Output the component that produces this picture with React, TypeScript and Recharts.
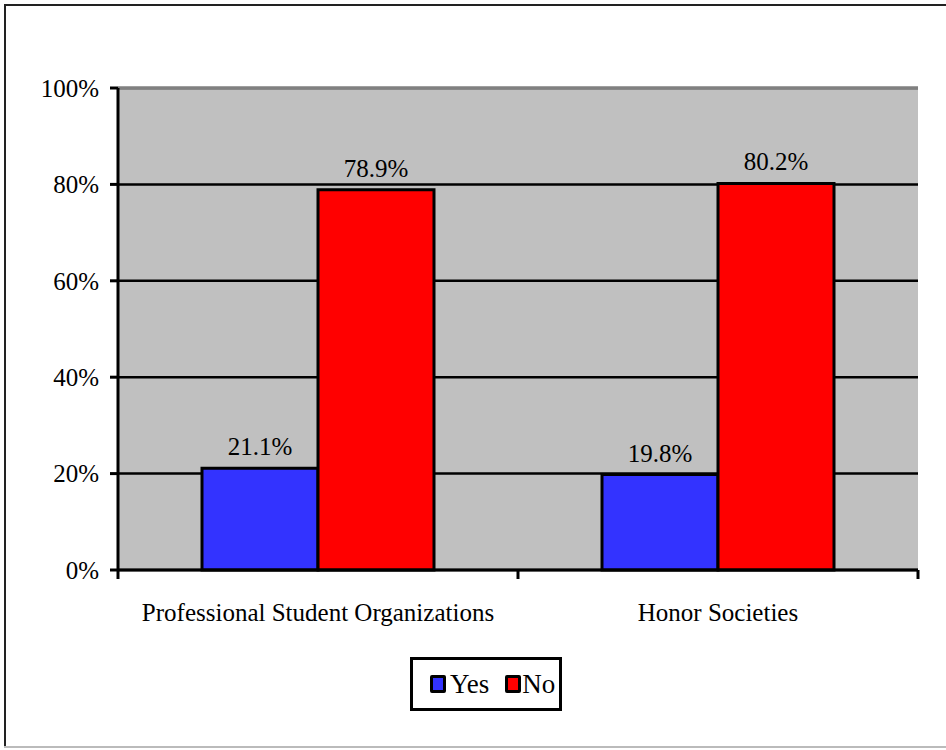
import React from 'react';
import {
  BarChart,
  Bar,
  XAxis,
  YAxis,
  CartesianGrid,
  ReferenceLine,
  LabelList,
  Legend,
} from 'recharts';

const categories = ['Professional Student Organizations', 'Honor Societies'];
const yesValues = [21.1, 19.8];
const noValues = [78.9, 80.2];
const yTicks = [0, 20, 40, 60, 80, 100];

const data = categories.map((name, i) => ({ name, Yes: yesValues[i], No: noValues[i] }));

const FONT = 'serif';

const CategoryTick = (props: any) => {
  const { x, y, payload, index, visibleTicksCount } = props;
  const half = payload.offset || 0;
  const last = index === (visibleTicksCount ?? categories.length) - 1;
  return (
    <g>
      <line x1={x - half} y1={y - 8} x2={x - half} y2={y + 1} stroke="#000" strokeWidth={3} />
      {last && <line x1={x + half} y1={y - 8} x2={x + half} y2={y + 1} stroke="#000" strokeWidth={3} />}
      <text x={x} y={y + 43} textAnchor="middle" fontFamily={FONT} fontSize={25} fill="#000">
        {payload.value}
      </text>
    </g>
  );
};

const swatch = (color: string) => ({
  display: 'inline-block',
  width: 10,
  height: 12,
  background: color,
  border: '3px solid #000',
  borderRadius: 2,
});

const LegendBox = () => (
  <div
    style={{
      boxSizing: 'border-box',
      width: 152,
      height: 54,
      border: '3px solid #000',
      display: 'flex',
      alignItems: 'center',
      paddingLeft: 17,
      fontFamily: FONT,
      fontSize: 27,
      color: '#000',
      background: '#fff',
    }}
  >
    <span style={{ ...swatch('#3333FF'), marginRight: 4 }} />
    <span style={{ marginRight: 16 }}>Yes</span>
    <span style={{ ...swatch('#FF0000'), marginRight: 1 }} />
    <span>No</span>
  </div>
);

export default function App() {
  return (
    <div style={{ position: 'absolute', left: 0, top: 0, width: 946, height: 750, background: '#fff', overflow: 'hidden' }}>
      <div style={{ position: 'absolute', left: 4, top: 4, width: 942, height: 2, background: '#222' }} />
      <div style={{ position: 'absolute', left: 4, top: 4, width: 2, height: 744, background: '#222' }} />
      <div style={{ position: 'absolute', left: 4, top: 746, width: 942, height: 2, background: '#bbb' }} />
      <div style={{ position: 'absolute', left: 0, top: 0 }}>
        <BarChart
          width={946}
          height={750}
          data={data}
          margin={{ top: 88, right: 28, bottom: 76, left: 0 }}
          barGap={0}
          barCategoryGap="21%"
        >
          <CartesianGrid
            vertical={false}
            fill="#C0C0C0"
            fillOpacity={1}
            stroke="#000"
            strokeWidth={2.5}
            strokeOpacity={1}
          />
          <ReferenceLine y={100} stroke="#808080" strokeWidth={3} />
          <XAxis
            dataKey="name"
            axisLine={{ stroke: '#000', strokeWidth: 3 }}
            tickLine={false}
            tick={<CategoryTick />}
            height={50}
            interval={0}
          />
          <YAxis
            domain={[0, 100]}
            ticks={yTicks}
            width={118}
            axisLine={{ stroke: '#000', strokeWidth: 3 }}
            tickLine={{ stroke: '#000', strokeWidth: 3 }}
            tickSize={8}
            tickMargin={11}
            tickFormatter={(v: number) => `${v}%`}
            tick={{ fontFamily: FONT, fontSize: 25, fill: '#000' }}
          />
          <Bar dataKey="Yes" fill="#3333FF" stroke="#000" strokeWidth={3} isAnimationActive={false}>
            <LabelList
              dataKey="Yes"
              position="top"
              offset={13}
              formatter={(v: any) => `${Number(v).toFixed(1)}%`}
              style={{ fontFamily: FONT, fontSize: 25, fill: '#000' }}
            />
          </Bar>
          <Bar dataKey="No" fill="#FF0000" stroke="#000" strokeWidth={3} isAnimationActive={false}>
            <LabelList
              dataKey="No"
              position="top"
              offset={13}
              formatter={(v: any) => `${Number(v).toFixed(1)}%`}
              style={{ fontFamily: FONT, fontSize: 25, fill: '#000' }}
            />
          </Bar>
          <Legend
            content={<LegendBox />}
            wrapperStyle={{ position: 'absolute', left: 410, top: 657, width: 152, bottom: 'auto' }}
          />
        </BarChart>
      </div>
    </div>
  );
}
